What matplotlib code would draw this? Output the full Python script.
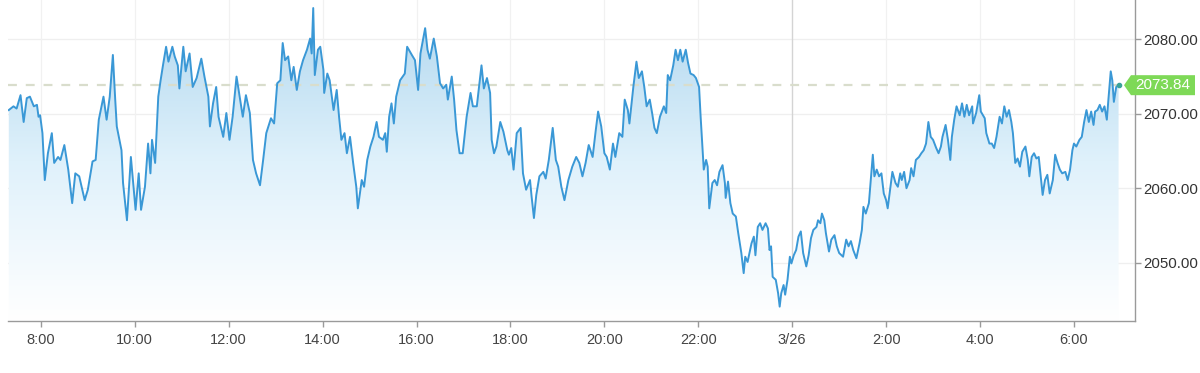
import numpy as np
import matplotlib
matplotlib.use("Agg")
import matplotlib.pyplot as plt
from matplotlib.colors import LinearSegmentedColormap
from matplotlib.patches import Polygon
import matplotlib.transforms as mtransforms

# ---------------- data ----------------
# minutes since 07:00 (3/25)
minutes = [
    19, 25, 29, 34, 38, 42, 46, 51, 55, 57, 59, 62, 65, 69, 74, 77, 82, 85, 90, 95,
    100, 104, 109, 116, 120, 126, 130, 134, 140, 144, 148, 152, 155, 157, 163, 165, 170, 175, 181, 185,
    188, 193, 197,
    200, 202, 206, 210, 213, 216, 220, 223, 228, 231, 235, 237, 242, 245, 250, 254, 259, 265, 269, 274,
    276, 280, 284, 287, 293, 297, 301, 305, 310, 314, 318, 322, 327, 331, 335, 340, 344, 348, 354, 358,
    362, 366, 369, 372, 376, 380,
    383, 387, 391, 395, 400, 404, 406, 408, 410, 414, 417, 421, 422, 426, 429, 434, 438, 441, 444, 448,
    451, 455, 459, 463, 465, 470, 473, 477, 481, 485, 489, 492, 497, 500, 502, 505, 508, 511, 514, 519,
    525, 528, 534, 538, 542, 545, 551, 554, 557,
    562, 566, 570, 574, 578, 580, 585, 588, 591, 595, 599, 604, 609, 612, 617, 619, 623, 626, 630, 634,
    636, 639, 642, 647, 651, 656, 658, 661, 664, 668, 673, 676, 680, 685, 687, 690, 693, 697, 702, 705,
    709, 714, 718, 721, 725, 729, 734,
    739, 744, 748, 752, 756, 760, 765, 769, 772, 776, 780, 783, 787, 791, 794, 799, 803, 806, 810, 812,
    817, 821, 824, 828, 831, 834, 838, 841, 844, 847, 851, 856, 859, 861, 864, 868, 871, 874, 877, 880,
    884, 887, 890, 894, 897, 901, 903, 905, 907, 910, 912, 914,
    918, 921, 924, 927, 931, 934, 935, 938, 941, 944, 948, 951, 955, 958, 960, 963, 968, 971, 973, 976,
    979, 982, 986, 989, 991, 993, 995, 999, 1002, 1004, 1006, 1009, 1011, 1014, 1017, 1019, 1022, 1025, 1028, 1031,
    1034, 1038, 1041, 1044, 1047, 1051, 1053, 1056, 1058, 1061, 1063, 1067, 1070, 1074, 1077, 1080, 1085, 1089, 1092,
    1095, 1098, 1102, 1106, 1109, 1111, 1114, 1118, 1121, 1123, 1125, 1128, 1131, 1134, 1137, 1140, 1142, 1145, 1148, 1152,
    1155, 1158, 1160, 1163, 1166, 1170, 1172, 1175, 1178, 1182, 1185, 1188, 1191, 1194, 1197, 1200, 1204, 1207, 1210, 1212,
    1216, 1219, 1222, 1224, 1227, 1230, 1234, 1237, 1240, 1243, 1246, 1250, 1251, 1255, 1259, 1261, 1266, 1268, 1272,
    1275, 1278, 1281, 1285, 1288, 1291, 1294, 1297, 1300, 1302, 1305, 1308, 1311, 1314, 1318, 1321, 1323, 1326, 1329, 1332,
    1335, 1338, 1340, 1343, 1346, 1349, 1353, 1356, 1359, 1362, 1365, 1369, 1372, 1375, 1378, 1380, 1383, 1387, 1390, 1393,
    1396, 1399, 1402, 1405, 1407, 1410, 1413, 1416, 1419, 1422, 1424, 1427, 1429, 1431, 1434, 1437,
]

price = [
    2070.5, 2071.0, 2070.7, 2072.5, 2068.9, 2072.1, 2072.3, 2071.0, 2071.2, 2069.6, 2069.8, 2067.4, 2061.1, 2064.7, 2067.4, 2063.4, 2064.2, 2063.8, 2065.8, 2062.5,
    2058.0, 2062.0, 2061.6, 2058.4, 2059.8, 2063.6, 2063.8, 2069.2, 2072.3, 2069.2, 2072.3, 2077.9, 2071.9, 2068.3, 2065.1, 2060.7, 2055.7, 2064.2, 2057.1, 2062.0,
    2057.1, 2060.2, 2066.0,
    2062.0, 2066.5, 2063.4, 2072.3, 2074.5, 2076.5, 2079.0, 2077.0, 2079.0, 2077.7, 2076.5, 2073.4, 2079.0, 2075.7, 2078.1, 2073.6, 2074.8, 2077.4, 2075.0, 2072.3,
    2068.3, 2071.4, 2073.6, 2069.6, 2066.9, 2070.1, 2066.5, 2069.6, 2075.0, 2072.3, 2069.6, 2072.5, 2070.1, 2063.8, 2062.0, 2060.4, 2063.8, 2067.4, 2069.4, 2068.7,
    2074.1, 2074.5, 2079.5, 2077.2, 2077.7, 2074.5,
    2076.3, 2073.2, 2075.7, 2077.2, 2078.6, 2080.1, 2078.1, 2084.2, 2075.2, 2078.6, 2079.0, 2075.9, 2072.8, 2075.4, 2074.5, 2070.5, 2073.2, 2069.6, 2066.5, 2067.4,
    2064.7, 2066.9, 2063.4, 2060.2, 2057.3, 2061.1, 2060.2, 2063.8, 2065.6, 2066.9, 2068.9, 2066.9, 2066.5, 2067.4, 2064.9, 2069.6, 2071.4, 2068.7, 2072.3, 2074.5,
    2075.4, 2079.0, 2077.9, 2077.2, 2073.2, 2078.1, 2081.5, 2078.6, 2077.4,
    2080.1, 2077.7, 2074.1, 2073.4, 2073.9, 2071.9, 2075.0, 2071.9, 2067.8, 2064.7, 2064.7, 2069.6, 2072.8, 2071.0, 2071.0, 2072.8, 2076.5, 2073.4, 2074.8, 2072.8,
    2066.5, 2064.7, 2065.6, 2068.9, 2067.6, 2065.1, 2064.5, 2065.4, 2062.5, 2067.4, 2068.1, 2062.0, 2059.8, 2061.1, 2058.9, 2056.0, 2059.1, 2061.6, 2062.2, 2061.3,
    2063.8, 2068.1, 2063.8, 2062.9, 2060.2, 2058.4, 2061.1,
    2062.9, 2064.2, 2063.4, 2061.6, 2063.4, 2065.8, 2064.2, 2067.8, 2070.3, 2068.3, 2064.7, 2064.2, 2062.5, 2066.0, 2064.2, 2067.4, 2066.9, 2071.9, 2070.5, 2068.7,
    2073.6, 2077.0, 2074.8, 2075.7, 2073.6, 2071.0, 2071.9, 2070.1, 2068.1, 2067.4, 2069.6, 2071.0, 2070.1, 2075.2, 2074.5, 2076.5, 2078.6, 2077.2, 2078.6, 2077.0,
    2078.6, 2076.8, 2075.4, 2075.2, 2074.8, 2073.6, 2069.6, 2066.0, 2062.5, 2063.8, 2062.9, 2057.3,
    2060.7, 2061.1, 2060.4, 2062.2, 2063.1, 2060.7, 2058.7, 2060.9, 2058.0, 2056.6, 2056.2, 2054.0, 2051.3, 2048.6, 2050.8, 2050.1, 2052.6, 2053.5, 2051.0, 2054.8,
    2055.3, 2054.4, 2055.3, 2054.6, 2051.7, 2052.2, 2048.1, 2047.7, 2045.9, 2044.1, 2045.9, 2047.0, 2045.7, 2047.7, 2050.8, 2049.9, 2051.0, 2051.7, 2053.5, 2054.2,
    2051.3, 2049.5, 2051.0, 2053.3, 2054.4, 2054.8, 2055.7, 2055.3, 2056.6, 2055.7, 2054.0, 2051.5, 2053.1, 2053.7, 2052.2, 2051.3, 2050.8, 2053.1, 2052.2,
    2052.9, 2051.7, 2050.6, 2052.6, 2054.4, 2057.5, 2056.6, 2058.0, 2062.0, 2064.5, 2061.6, 2062.5, 2061.6, 2062.0, 2059.3, 2058.4, 2057.3, 2059.8, 2062.2, 2060.7,
    2060.2, 2062.0, 2061.1, 2062.2, 2060.0, 2061.1, 2062.7, 2061.6, 2063.8, 2064.2, 2064.7, 2065.1, 2066.0, 2068.9, 2066.9, 2066.5, 2065.4, 2064.7, 2065.6, 2066.9,
    2068.5, 2066.5, 2063.8, 2066.9, 2069.2, 2071.0, 2069.8, 2071.4, 2069.6, 2071.2, 2069.8, 2071.0, 2068.7, 2070.1, 2072.5, 2070.3, 2069.4, 2067.4, 2066.0,
    2066.0, 2065.4, 2066.9, 2069.6, 2068.7, 2071.0, 2069.6, 2070.5, 2068.9, 2067.4, 2063.4, 2064.0, 2062.9, 2064.9, 2065.6, 2063.8, 2061.6, 2064.2, 2064.7, 2064.0,
    2064.2, 2061.1, 2059.1, 2061.1, 2061.8, 2059.3, 2061.1, 2064.5, 2063.4, 2062.5, 2062.0, 2062.2, 2061.1, 2062.5, 2065.1, 2066.0, 2065.6, 2066.5, 2066.9, 2068.9,
    2070.5, 2068.9, 2070.3, 2068.5, 2070.3, 2070.5, 2071.2, 2070.3, 2071.0, 2069.2, 2071.9, 2075.7, 2074.5, 2071.6, 2073.6, 2073.84,
]

tick_minutes = [60, 180, 300, 420, 540, 660, 780, 900, 1020, 1140, 1260, 1380]
tick_labels = ["8:00", "10:00", "12:00", "14:00", "16:00", "18:00", "20:00",
               "22:00", "3/26", "2:00", "4:00", "6:00"]
day_break_minute = 1020
y_ticks = [2050, 2060, 2070, 2080]
last_price = price[-1]

x_range = (18, 1458)
y_range = (2042.17, 2085.28)

# ---------------- figure ----------------
plt.rcParams['font.family'] = ['Liberation Sans', 'DejaVu Sans']
fig = plt.figure(figsize=(12, 3.73), dpi=100)
ax = fig.add_axes([8 / 1200, 52 / 373, 1127 / 1200, 321 / 373])
ax.set_xlim(*x_range)
ax.set_ylim(*y_range)

t = np.array(minutes, dtype=float)
v = np.array(price, dtype=float)

# grid
for ym in y_ticks:
    ax.axhline(ym, color="#efefef", lw=0.9, zorder=0)
for xm in tick_minutes:
    if xm == day_break_minute:
        ax.axvline(xm, color="#d4d4d4", lw=1.0, zorder=0.5)
    else:
        ax.axvline(xm, color="#f1f1f1", lw=0.9, zorder=0)

# gradient fill under the line
poly = ax.fill_between(t, v, y_range[0], color="none", lw=0)
grad = np.linspace(1, 0, 256).reshape(-1, 1)
cmap = LinearSegmentedColormap.from_list("g", ["#ffffff", "#dff1fb", "#afd6ee"])
im = ax.imshow(grad, extent=[x_range[0], x_range[1], y_range[0], y_range[1]],
               aspect="auto", cmap=cmap, origin="upper", zorder=1, interpolation="bilinear")
im.set_clip_path(poly.get_paths()[0], transform=ax.transData)

# last price dashed line
ax.axhline(last_price, color="#d9ddcc", lw=1.6, dashes=(4, 4), zorder=1.5)

# price line
ax.plot(t, v, color="#3a98d6", lw=1.4, zorder=3, solid_joinstyle="round")
ax.plot([t[-1]], [v[-1]], marker="o", ms=3, color="#3aa39a", zorder=4)

# spines
for s in ["top", "left"]:
    ax.spines[s].set_visible(False)
for s in ["bottom", "right"]:
    ax.spines[s].set_color("#9a9a9a")
    ax.spines[s].set_linewidth(1.0)

ax.yaxis.tick_right()
ax.set_xticks(tick_minutes)
ax.set_xticklabels(tick_labels)
ax.set_yticks(y_ticks)
ax.set_yticklabels([f"{y:.2f}" for y in y_ticks])
ax.tick_params(axis="x", length=4, width=1, color="#9a9a9a", pad=5,
               labelsize=10.5, labelcolor="#444444")
ax.tick_params(axis="y", length=4, width=1, color="#9a9a9a", pad=2,
               labelsize=10.8, labelcolor="#333333")

# last price tag
blend = mtransforms.blended_transform_factory(ax.transAxes, ax.transData)
tip_x = (1124 - 8) / 1127
verts = np.array([[0, 0], [7, 10], [71, 10], [71, -10], [7, -10]]) / fig.dpi
tag_trans = fig.dpi_scale_trans + mtransforms.ScaledTranslation(tip_x, last_price, blend)
tag = Polygon(verts, closed=True, facecolor="#7ed957", edgecolor="none",
              transform=tag_trans, clip_on=False, zorder=5)
ax.add_patch(tag)
text_trans = mtransforms.offset_copy(blend, fig=fig, x=39, y=0, units="dots")
ax.text(tip_x, last_price, f"{last_price:.2f}", transform=text_trans,
        ha="center", va="center", color="white", fontsize=11,
        clip_on=False, zorder=6)

fig.savefig("out.png", dpi=100)
